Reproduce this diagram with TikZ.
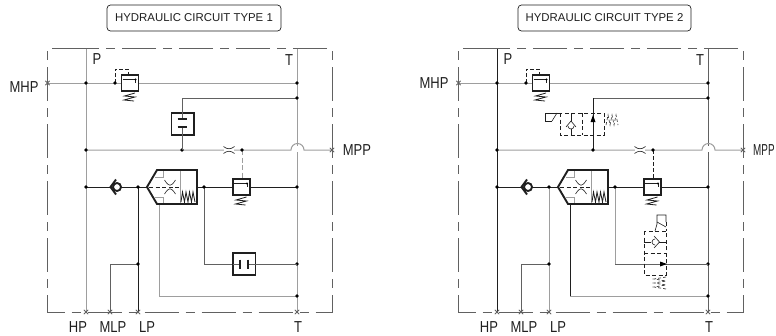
\documentclass[tikz,border=0pt]{standalone}
\usepackage{graphicx}
\usepackage{fontspec}
\setmainfont{Liberation Sans}
\definecolor{lgray}{gray}{0.62}
\definecolor{mgray}{gray}{0.38}
\definecolor{dgray}{gray}{0.12}
\newcommand\lbl[1]{\fontsize{13}{13}\selectfont\scalebox{1}[1.22]{#1}}
\tikzset{
  gl/.style={draw=lgray,line width=1pt},
  ml/.style={draw=mgray,line width=1pt},
  dl/.style={draw=dgray,line width=1pt},
  heavy/.style={draw=dgray,line width=1.9pt,line join=miter},
  thinl/.style={draw=dgray,line width=0.6pt},
  frameline/.style={draw=mgray,line width=0.9pt,dash pattern=on 34pt off 7pt on 9pt off 7pt},
  pilot/.style={draw=dgray,line width=0.8pt,dash pattern=on 4pt off 2pt},
  pilotg/.style={draw=lgray,line width=1pt,dash pattern=on 5pt off 2.5pt},
  ghost/.style={draw=dgray,line width=0.8pt,dash pattern=on 4pt off 2.5pt},
  lab/.style={inner sep=0pt,text=dgray},
  titlebox/.style={draw=dgray,line width=0.7pt,rounded corners=3.5pt,minimum height=26pt,inner sep=0pt,fill=white,font=\fontsize{11.4}{12}\selectfont,text=dgray}
}
% junction dot and port mark
\newcommand\jd[1]{\fill[black] (#1) circle (1.8pt);}
\newcommand\portm[1]{\draw[mgray,line width=0.8pt] ([shift={(-2.2,-2.2)}]#1) -- ([shift={(2.2,2.2)}]#1) ([shift={(-2.2,2.2)}]#1) -- ([shift={(2.2,-2.2)}]#1);}
% relief valve: #1,#2 = top-left of its box
\newcommand\relief[2]{
\begin{scope}[shift={(#1,#2)}]
  \fill[white] (0,0) rectangle (17,16);
  \draw[thinl] (1,4.5) -- (14,4.5) -- (14,8);
  \fill[black] (14,4.5) circle (1.2pt);
  \draw[heavy] (0,0) rectangle (17,16);
  \draw[thinl,line width=0.8pt] (13.5,18) -- (3,21) -- (13.5,22) -- (2.5,25) -- (12.5,26);
\end{scope}}
% main logic element
\newcommand\mainv{
  \fill[white] (147,187) -- (157,170) -- (197,170) -- (197,204) -- (157,204) -- cycle;
  \draw[gl] (163,171) -- (163,177) -- (155,177);
  \draw[gl] (163,203) -- (163,197) -- (155,197);
  \draw[gl] (180,170) -- (180,204);
  \draw[thinl,dash pattern=on 4pt off 2.5pt] (149,187) -- (180,187);
  \draw[thinl] (164.5,180) .. controls (169,187) and (171,187) .. (175.5,180);
  \draw[thinl] (164.5,194) .. controls (169,187) and (171,187) .. (175.5,194);
  \draw[thinl,line width=0.8pt] (181,202) -- (182.5,192) -- (184.5,202) -- (186,192) -- (188,202) -- (189.5,192) -- (191.5,202) -- (193,192) -- (195,202);
  \draw[heavy] (147,187) -- (157,170) -- (197,170) -- (197,204) -- (157,204) -- cycle;
}
% check valve on the low pressure line
\newcommand\checkv{
  \draw[heavy] (116,179.5) -- (110.5,187) -- (116,194.5);
  \draw[heavy,fill=white] (117,187) circle (4pt);
}
% orifice
\newcommand\orif{
  \fill[white] (224,147) rectangle (234,153);
  \draw[thinl] (223.5,146.5) .. controls (227,149.5) and (231,149.5) .. (234.5,146.5);
  \draw[thinl] (223.5,153.5) .. controls (227,150.5) and (231,150.5) .. (234.5,153.5);
}
% body shared by both circuits
\newcommand\hcircuit[1]{
  \coordinate (#1fa) at (47.5,48.5); \coordinate (#1fb) at (332,48.5);
  \coordinate (#1fc) at (332,312);   \coordinate (#1fd) at (47.5,312);
  \coordinate (#1pt) at (86,48.5);   \coordinate (#1tt) at (297,48.5);
  \coordinate (#1pb) at (86,312);    \coordinate (#1tb) at (297,312);
  \coordinate (#1mhpl) at (47.5,83); \coordinate (#1mhpp) at (86,83);
  \coordinate (#1mhpv) at (115,83);  \coordinate (#1mhpt) at (297,83);
  \coordinate (#1pmid) at (86,150);  \coordinate (#1vmid) at (182,150);
  \coordinate (#1vtop) at (182,98);  \coordinate (#1ttop) at (297,98);
  \coordinate (#1pilot) at (242,150);\coordinate (#1bs) at (291,150);
  \coordinate (#1be) at (304,150);   \coordinate (#1mpp) at (332,150);
  \coordinate (#1plow) at (86,187);  \coordinate (#1lp) at (138,187);
  \coordinate (#1vtip) at (147,187); \coordinate (#1vr) at (197,187);
  \coordinate (#1sp) at (204,187);   \coordinate (#1tlow) at (297,187);
  \coordinate (#1lpb) at (138,312);  \coordinate (#1lpm) at (138,264);
  \coordinate (#1mlpa) at (110,264); \coordinate (#1mlpb) at (110,312);
  \coordinate (#1sb) at (204,264);   \coordinate (#1tb2) at (297,264);
  \coordinate (#1ba) at (159,204);   \coordinate (#1bb) at (159,296);
  \coordinate (#1tb3) at (297,296);
  \draw[frameline] (#1pt) -- (#1fa) -- (#1fd) -- (#1fc) -- (#1fb) -- (#1pt);
  \draw[clP] (#1pt) -- (#1pb);
  \draw[clT] (#1tt) -- (#1tb);
  \draw[gl] (#1mhpl) -- (#1mhpt);
  \draw[ml] (#1vtop) -- (#1ttop);
  \draw[clV] (#1vtop) -- (#1vmid);
  \fill[white] (289.5,146) rectangle (305.5,152);
  \draw[gl] (#1pmid) -- (#1bs) arc[start angle=180,end angle=0,radius=6.5pt] -- (#1be) -- (#1mpp);
  \draw[dl] (#1plow) -- (#1vtip);
  \draw[dl] (#1vr) -- (#1tlow);
  \draw[clLP] (#1lp) -- (#1lpb);
  \draw[ml] (#1lpm) -- (#1mlpa) -- (#1mlpb);
  \draw[clS] (#1sp) -- (#1sb);
  \draw[clBa] (#1ba) -- (#1bb);
  \draw[gl] (#1bb) -- (#1tb3);
  \draw[#1pil] (#1pilot) -- (242,179);
  \draw[pilot] (#1mhpv) -- (115,69) -- (128,69) -- (128,75);
  \orif
  \checkv
  \mainv
  \relief{121.5}{75}
  \relief{233}{179}
  \jd{#1mhpp}\jd{#1mhpv}\jd{#1mhpt}\jd{#1ttop}\jd{#1pmid}\jd{#1vmid}\jd{#1pilot}
  \jd{#1plow}\jd{#1lp}\jd{#1sp}\jd{#1tlow}\jd{#1lpm}\jd{#1tb2}\jd{#1tb3}
  \portm{#1mhpl}\portm{#1mpp}\portm{#1pb}\portm{#1mlpb}\portm{#1lpb}\portm{#1tb}
  \node[lab] (#1lP) at (97,59.5) {\lbl{P}};
  \node[lab] (#1lT) at (289,60) {\lbl{T}};
  \node[lab] (#1lHP) at (78,327) {\lbl{HP}};
  \node[lab] (#1lMLP) at (113,327) {\lbl{MLP}};
  \node[lab] (#1lLP) at (147,327) {\lbl{LP}};
  \node[lab] (#1lTb) at (298,327) {\lbl{T}};
}
\tikzset{Lpil/.style={pilotg},Rpil/.style={pilot}}
\begin{document}
\begin{tikzpicture}[x=1pt,y=-1pt]
\useasboundingbox (0,0) rectangle (776,335);
% ---- circuit type 1
\begin{scope}[clP/.style={gl},clT/.style={gl},clV/.style={ml},clLP/.style={dl},clS/.style={ml},clBa/.style={gl}]
  \hcircuit{L}
  \draw[ml] (204,264) -- (233,264);
  \draw[ml] (255,264) -- (297,264);
  \node[lab] (LlMHP) at (24,87) {\lbl{MHP}};
  \node[lab] (LlMPP) at (357,150) {\lbl{MPP}};
  % cartridge with two seats, upper
  \fill[white] (171.5,113) rectangle (194,135);
  \draw[heavy] (171.5,113) rectangle (194,135);
  \draw[ml] (182,98) -- (182,119);
  \draw[ml] (182,127) -- (182,150);
  \draw[heavy] (177.5,119) -- (186.5,119);
  \draw[heavy] (177.5,127) -- (186.5,127);
  % cartridge with two seats, lower
  \fill[white] (233,253) rectangle (255.5,275);
  \draw[heavy] (233,253) rectangle (255.5,275);
  \draw[ml] (233,264) -- (240,264);
  \draw[ml] (248,264) -- (255.5,264);
  \draw[heavy] (240,259.5) -- (240,268.5);
  \draw[heavy] (248,259.5) -- (248,268.5);
  \node[titlebox,minimum width=174pt] (Ltitle) at (194,18) {HYDRAULIC CIRCUIT TYPE 1};
\end{scope}
% ---- circuit type 2
\begin{scope}[shift={(411,0)},clP/.style={dl},clT/.style={ml},clV/.style={dl},clLP/.style={gl},clS/.style={gl},clBa/.style={dl}]
  \hcircuit{R}
  \draw[ml] (204,264) -- (297,264);
  \node[lab] (RlMHP) at (23,83) {\lbl{MHP}};
  \node[lab,anchor=west] (RlMPP) at (342,150) {\fontsize{13}{13}\selectfont\scalebox{0.76}[1.22]{MPP}};
  % pilot valve, horizontal
  \draw[ghost] (149,113) rectangle (193,135);
  \draw[ghost] (171,113) -- (171,135);
  \draw[thinl] (149,113) -- (134,113) -- (134,121) -- (141,121);
  \draw[thinl] (141,121) -- (146,113);
  \draw[thinl] (160,113) -- (160,120.5);
  \draw[thinl] (160,128.5) -- (160,135);
  \draw[thinl] (155,127) -- (160,121) -- (165,127);
  \draw[thinl] (157,126) arc[start angle=180,end angle=360,radius=3pt];
  \draw[thinl,dash pattern=on 3pt off 2pt] (195,125) -- (197,115) -- (199,125) -- (201,115) -- (203,125) -- (205,115) -- (207,125);
  \fill[black] (182,115) -- (179.5,122) -- (184.5,122) -- cycle;
  % pilot valve, vertical
  \draw[ghost] (233,231) rectangle (255,275);
  \draw[ghost] (233,253) -- (255,253);
  \draw[thinl] (244,231) -- (246,224) -- (246,215) -- (255,215) -- (255,222);
  \draw[thinl] (246,222) -- (255,227);
  \draw[ghost] (255,222) -- (255,231);
  \draw[thinl] (233,242) -- (240,242);
  \draw[thinl] (248,242) -- (255,242);
  \draw[thinl] (243,236) -- (248.5,242) -- (243,248);
  \draw[thinl] (244,239) arc[start angle=90,end angle=270,radius=3pt];
  \fill[black] (256,264) -- (249,261.5) -- (249,266.5) -- cycle;
  \draw[thinl,dash pattern=on 3pt off 2pt] (255,277) -- (243,279) -- (255,281) -- (243,283) -- (255,285) -- (243,287) -- (255,289);
  \node[titlebox,minimum width=173pt] (Rtitle) at (193.5,18) {HYDRAULIC CIRCUIT TYPE 2};
\end{scope}
\end{tikzpicture}
\end{document}
